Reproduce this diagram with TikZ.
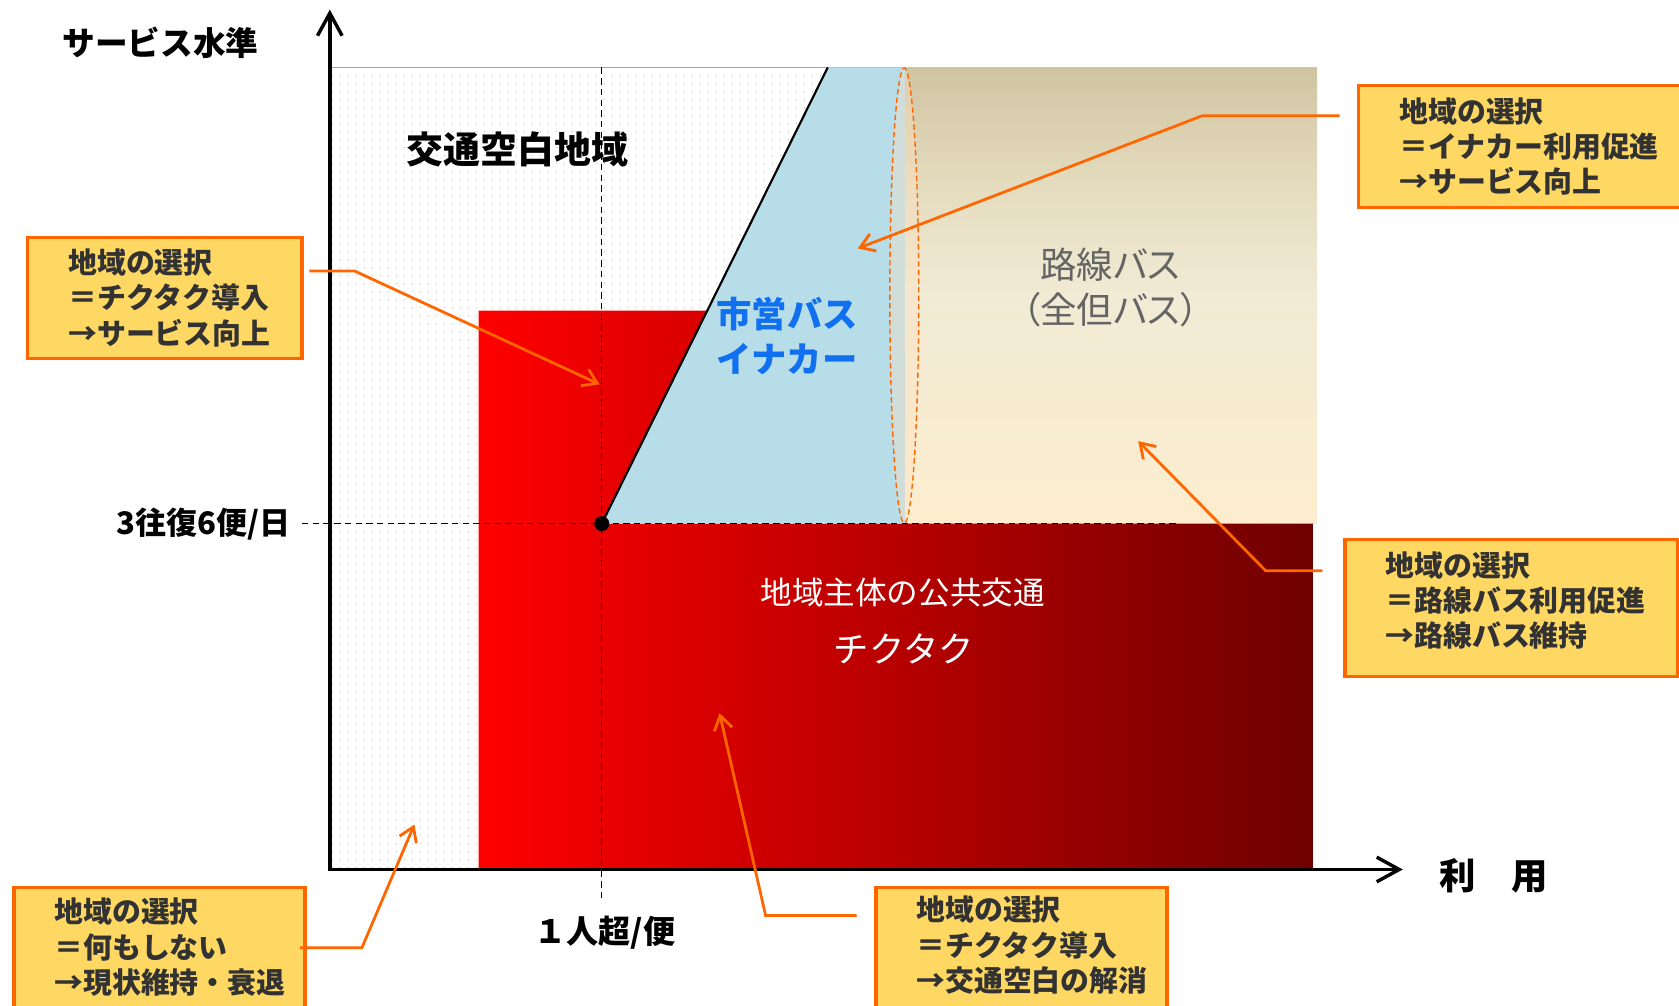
\documentclass[tikz,border=0pt]{standalone}
\usepackage{fontspec}
\setmainfont{Noto Sans CJK JP}
\newfontfamily\jpp{Noto Sans CJK JP}[RawFeature=+palt]
\usepackage{tikz}
\usetikzlibrary{arrows.meta,patterns.meta}

\definecolor{selorange}{RGB}{255,102,0}
\definecolor{selfill}{RGB}{255,216,100}
\definecolor{seltext}{RGB}{50,50,50}
\definecolor{inakablue}{RGB}{183,221,232}
\definecolor{inakatext}{RGB}{16,112,240}
\definecolor{rosentext}{RGB}{100,100,100}
\definecolor{tantop}{RGB}{208,196,161}
\definecolor{tanq}{RGB}{229,220,191}
\definecolor{tanmid}{RGB}{241,235,213}
\definecolor{tanbot}{RGB}{253,237,206}
\definecolor{redleft}{RGB}{255,0,0}
\definecolor{redright}{RGB}{110,0,0}

\pgfdeclareverticalshading{tanshade}{100bp}{color(0bp)=(tanbot); color(25bp)=(tanbot);
  color(50bp)=(tanmid); color(62bp)=(tanq); color(75bp)=(tantop); color(100bp)=(tantop)}

\tikzdeclarepattern{
  name=sparsedots,
  type=uncolored,
  bottom left={(0pt,0pt)},
  top right={(7pt,7pt)},
  tile size={(7pt,7pt)},
  code={\fill (3.5pt,3.5pt) circle (0.7pt);}
}

\tikzset{
    selbox/.style={
           rectangle,
           draw=selorange,
           line width=3.5pt,
           fill=selfill,
           anchor=north west,
           inner xsep=38pt,
           inner ysep=0pt,
           align=left,
           text=seltext,
           font=\bfseries\fontsize{27}{33}\selectfont,
           },
    selline/.style={
           draw=selorange,
           line width=2.6pt,
           -{Straight Barb[length=13pt,width=17pt]},
           },
    guide/.style={
           line width=1.3pt,
           dash pattern=on 6pt off 4pt,
           },
    axis/.style={
           line width=3.2pt,
           {Straight Barb[length=21pt,width=23pt]}-{Straight Barb[length=21pt,width=23pt]},
           },
}

\begin{document}
\begin{tikzpicture}[x=1pt,y=-1pt]

 \clip (0,0) rectangle (1568,939);

 \coordinate (ORIGIN) at (308,812);
 \coordinate (KNEE) at (562,489);
 \coordinate (PEAK) at (773,63);

 % regions
 \fill[white] (310,63) rectangle (845,812);
 \fill[pattern=sparsedots, pattern color=black!22] (310,63) rectangle (845,812);
 \draw[gray!70, line width=1.5pt] (310,63) -- (845,63);

 \shade[shading=tanshade] (845,63) rectangle (1230,489);

 \shade[left color=redleft, right color=redright]
   (447,290) -- (660.6,290) -- (KNEE) -- (1226,489) -- (1226,812) -- (447,812) -- cycle;

 \fill[inakablue] (KNEE) -- (PEAK) -- (845,63) -- (845,489) -- cycle;
 \draw[line width=2pt] (KNEE) -- (PEAK);

 \draw[selorange, line width=1.3pt, dash pattern=on 5pt off 3pt,
   fill=orange!25, fill opacity=0.35]
   (844.5,276) ellipse [x radius=13.5, y radius=212.5];

 \draw[guide] (562,63) -- (562,840);
 \draw[guide] (282,489) -- (1099,489);

 \draw[axis] (308,9) -- (ORIGIN) -- (1310,812);
 \fill (KNEE) circle [radius=7];

 % labels
 \node[font=\bfseries\fontsize{30.5}{36}\selectfont] (YLABEL) at (150,40) {サービス水準};
 \node[font=\bfseries\fontsize{34}{40}\selectfont] (XLABEL) at (1395,818) {利　用};
 \node[font=\bfseries\fontsize{29}{36}\selectfont, anchor=east] (FREQ) at (275,489) {3往復6便/日};
 \node[font=\bfseries\fontsize{30}{36}\selectfont] (RIDERS) at (565,871) {１人超/便};

 \node[font=\bfseries\fontsize{34.5}{40}\selectfont] (VOID) at (483,140) {交通空白地域};
 \node[font=\bfseries\fontsize{33}{42}\selectfont, text=inakatext, align=center] (SHIEI)
   at (735,314) {市営バス\\イナカー};
 \node[font=\jpp\fontsize{34}{42}\selectfont, text=rosentext, align=center] (ROSEN)
   at (1037,268) {路線バス\\（全但バス）};
 \node[font=\fontsize{29.5}{36}\selectfont, text=white] (CHIKU) at (843,553) {地域主体の公共交通};
 \node[font=\fontsize{33}{40}\selectfont, text=white] (CHIKUTAKU) at (844,606) {チクタク};

 % choices
 \node[selbox, text width=180pt, minimum height=113pt] (SEL1) at (24,220)
 {地域の選択\\＝チクタク導入\\→サービス向上};
 \node[selbox, text width=237pt, minimum height=114pt] (SEL2) at (1267,78)
 {地域の選択\\＝イナカー利用促進\\→サービス向上};
 \node[selbox, text width=235pt, minimum height=128pt] (SEL3) at (1254,502)
 {地域の選択\\＝路線バス利用促進\\→路線バス維持\par\vspace*{14pt}};
 \node[selbox, text width=196pt, minimum height=118pt] (SEL4) at (11,827)
 {地域の選択\\＝何もしない\\→現状維持・衰退\par\vspace*{6pt}};
 \node[selbox, text width=196pt, minimum height=118pt] (SEL5) at (816,827)
 {地域の選択\\＝チクタク導入\\→交通空白の解消\par\vspace*{10pt}};

 \coordinate (SEL1out) at (289,253);
 \coordinate (SEL1tip) at (560,359);
 \coordinate (SEL2out) at (1251,108);
 \coordinate (SEL2tip) at (801,232);
 \coordinate (SEL3out) at (1235,533);
 \coordinate (SEL3tip) at (1063,412);
 \coordinate (SEL4out) at (280,885);
 \coordinate (SEL4tip) at (387,770);
 \coordinate (SEL5out) at (800,855);
 \coordinate (SEL5tip) at (672,666);

 \draw[selline] (SEL1out) -- ++(42,0) -- (SEL1tip);
 \draw[selline] (SEL2out) -- ++(-128,0) -- (SEL2tip);
 \draw[selline] (SEL3out) -- ++(-53,0) -- (SEL3tip);
 \draw[selline] (SEL4out) -- ++(58,0) -- (SEL4tip);
 \draw[selline] (SEL5out) -- ++(-85,0) -- (SEL5tip);

\end{tikzpicture}
\end{document}
